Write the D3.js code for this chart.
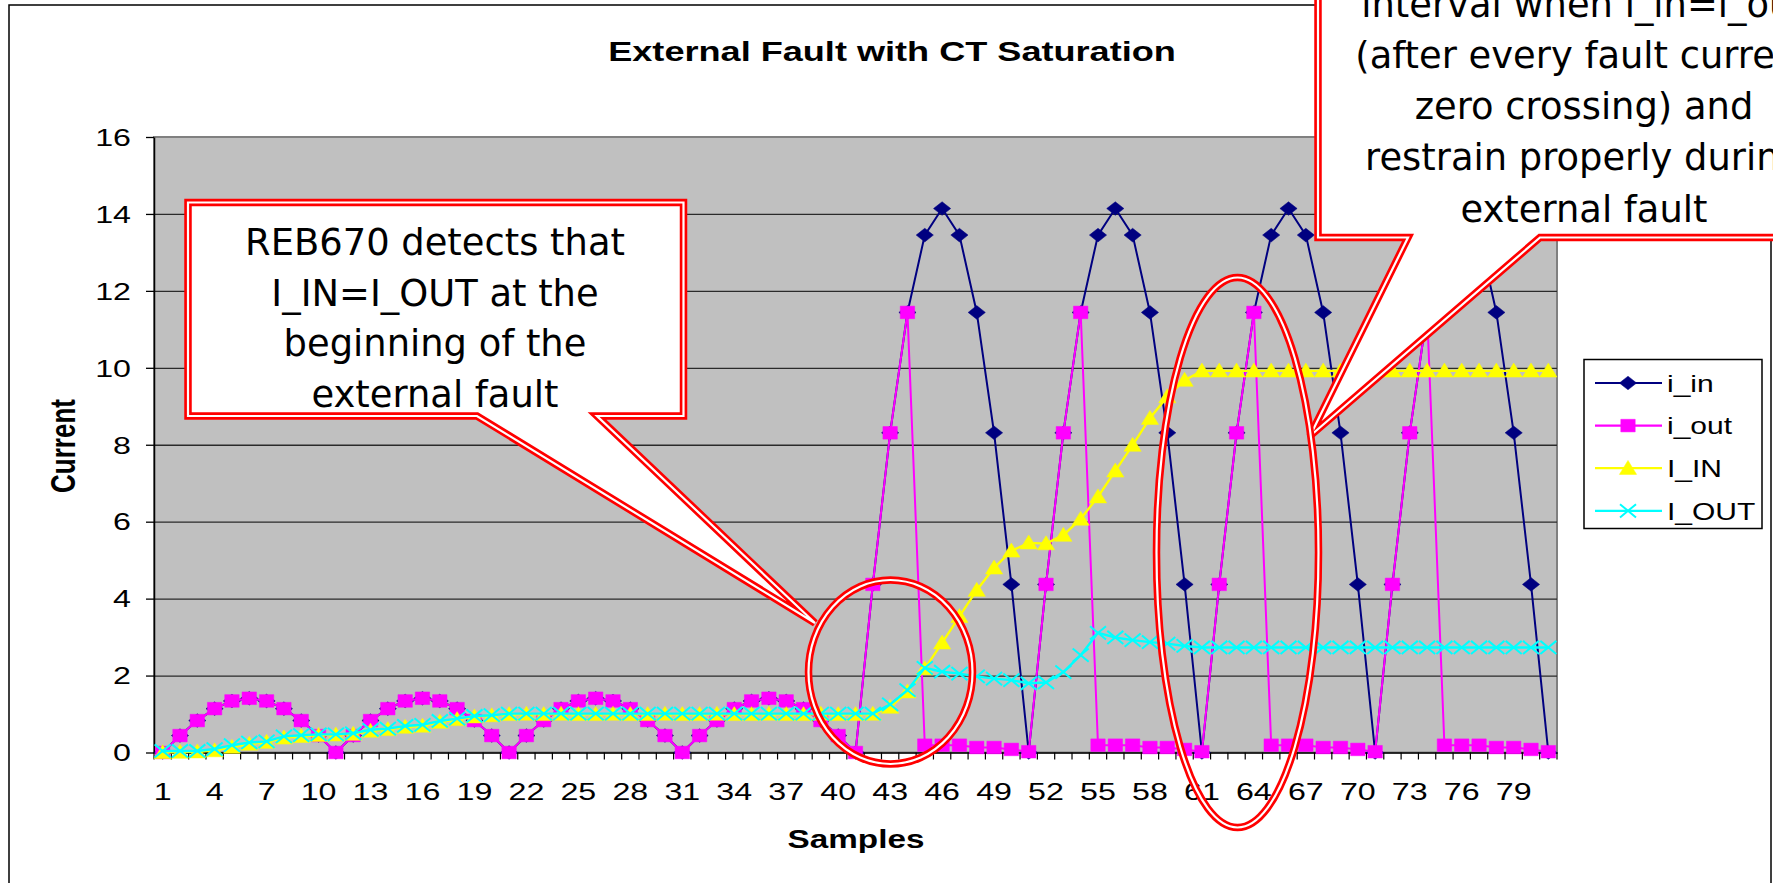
<!DOCTYPE html>
<html>
<head>
<meta charset="utf-8">
<script src="https://cdnjs.cloudflare.com/ajax/libs/d3/7.8.5/d3.min.js"></script>
<style>
body { margin: 0; background: #fff; }
text { font-family: "Liberation Sans", Arial, sans-serif; fill: #000; }
.note text { font-family: "DejaVu Sans", Tahoma, sans-serif; }
</style>
</head>
<body>
<div id="viz"></div>
<script>

// ****************** Data **************************************************
var samples = [1,2,3,4,5,6,7,8,9,10,11,12,13,14,15,16,17,18,19,20,
  21,22,23,24,25,26,27,28,29,30,31,32,33,34,35,36,37,38,39,40,
  41,42,43,44,45,46,47,48,49,50,51,52,53,54,55,56,57,58,59,60,
  61,62,63,64,65,66,67,68,69,70,71,72,73,74,75,76,77,78,79,80,81];

var xTickLabels = [1,4,7,10,13,16,19,22,25,28,31,34,37,40,43,46,49,52,55,58,61,64,67,70,73,76,79];
var yTicks = [0,2,4,6,8,10,12,14,16];

var i_in = [0,0.44,0.83,1.14,1.34,1.41,1.34,1.14,0.83,0.44,
  0,0.44,0.83,1.14,1.34,1.41,1.34,1.14,0.83,0.44,
  0,0.44,0.83,1.14,1.34,1.41,1.34,1.14,0.83,0.44,
  0,0.44,0.83,1.14,1.34,1.41,1.34,1.14,0.83,0.44,
  0,4.37,8.31,11.44,13.45,14.14,13.45,11.44,8.31,4.37,
  0,4.37,8.31,11.44,13.45,14.14,13.45,11.44,8.31,4.37,
  0,4.37,8.31,11.44,13.45,14.14,13.45,11.44,8.31,4.37,
  0,4.37,8.31,11.44,13.45,14.14,13.45,11.44,8.31,4.37,
  0];

var i_out = [0,0.44,0.83,1.14,1.34,1.41,1.34,1.14,0.83,0.44,
  0,0.44,0.83,1.14,1.34,1.41,1.34,1.14,0.83,0.44,
  0,0.44,0.83,1.14,1.34,1.41,1.34,1.14,0.83,0.44,
  0,0.44,0.83,1.14,1.34,1.41,1.34,1.14,0.83,0.44,
  0,4.37,8.31,11.44,0.19,0.19,0.19,0.13,0.13,0.08,
  0.02,4.37,8.31,11.44,0.19,0.19,0.19,0.13,0.13,0.08,
  0.02,4.37,8.31,11.44,0.19,0.19,0.19,0.13,0.13,0.08,
  0.02,4.37,8.31,11.44,0.19,0.19,0.19,0.13,0.13,0.08,
  0.02];

var I_IN = [0,0.01,0.02,0.05,0.14,0.22,0.27,0.38,0.42,0.45,
  0.46,0.48,0.56,0.6,0.66,0.69,0.79,0.86,0.93,0.96,
  0.99,1,0.99,1,0.99,0.99,1,0.99,0.99,1,
  0.99,0.99,1,0.99,0.99,1,0.99,0.99,1,0.99,
  0.99,1,1.18,1.58,2.18,2.85,3.54,4.22,4.8,5.24,
  5.45,5.43,5.65,6.07,6.65,7.32,7.99,8.69,9.25,9.68,
  9.92,9.92,9.92,9.92,9.92,9.92,9.92,9.92,9.92,9.92,
  9.92,9.92,9.92,9.92,9.92,9.92,9.92,9.92,9.92,9.92,
  9.92];

var I_OUT = [0.04,0.04,0.04,0.09,0.19,0.26,0.29,0.42,0.45,0.47,
  0.47,0.5,0.59,0.62,0.69,0.72,0.82,0.88,0.95,0.97,
  1.01,1.01,1.01,1.01,1.01,1.01,1.01,1.01,1.01,1.01,
  1.01,1.01,1.01,1.01,1.01,1.01,1.01,1.01,1.01,1.01,
  1.01,1.01,1.25,1.62,2.2,2.1,2.05,1.98,1.92,1.88,
  1.8,1.82,2.09,2.53,3.11,2.99,2.92,2.87,2.83,2.77,
  2.73,2.73,2.73,2.73,2.73,2.73,2.73,2.73,2.73,2.73,
  2.73,2.73,2.73,2.73,2.73,2.73,2.73,2.73,2.73,2.73,
  2.73];

var seriesNames = ["i_in", "i_out", "I_IN", "I_OUT"];
var seriesValues = [i_in, i_out, I_IN, I_OUT];

var note1 = ["REB670 detects that", "I_IN=I_OUT at the", "beginning of the", "external fault"];
var note2 = ["interval when i_in=i_out", "(after every fault current", "zero crossing) and",
             "restrain properly during", "external fault"];

// ****************** Setup ***************************
var width = 1773,
    height = 883;

var plotLeft = 154, plotRight = 1557, plotTop = 137, plotBottom = 752.5;

var svg = d3.select("#viz")
    .append("svg")
    .attr("width", width)
    .attr("height", height);

var color = d3.scaleOrdinal()                                   //series colours
    .domain(seriesNames)
    .range(["#000080", "#FF00FF", "#FFFF00", "#00FFFF"]);

var marker = d3.scaleOrdinal()                                  //marker outlines, w/h
    .domain(seriesNames)
    .range([
      "M0,-6.8L8.6,0L0,6.8L-8.6,0Z",
      "M-7.2,-6.3H7.2V6.3H-7.2Z",
      "M0,-7.8L8.6,6.2L-8.6,6.2Z",
      "M-8,-6.6L8,6.6M8,-6.6L-8,6.6"
    ]);

var x = d3.scaleBand()
    .domain(samples)
    .range([plotLeft, plotRight])
    .padding(0);

function cx(d) { return x(d) + x.bandwidth() / 2; }

var y = d3.scaleLinear()
    .domain([0, 16])
    .range([plotBottom, plotTop]);

var series = seriesNames.map(function(name, k) {
  return {
    name: name,
    values: samples.map(function(s, i) { return {s: s, v: seriesValues[k][i]}; })
  };
});

// ****************** Chart frame ***************************
svg.append("rect")
    .attr("width", width).attr("height", height)
    .attr("fill", "#fff");

svg.append("rect")                                              // outer chart border
    .attr("x", 9).attr("y", 5)
    .attr("width", 1762).attr("height", 920)
    .attr("fill", "none")
    .attr("stroke", "#000")
    .attr("stroke-width", 1.5);

svg.append("text")
    .attr("transform", "translate(892,60.5) scale(1.29,1)")
    .attr("text-anchor", "middle")
    .style("font-size", "28px")
    .style("font-weight", "bold")
    .text("External Fault with CT Saturation");

svg.append("rect")                                              // plot area
    .attr("x", plotLeft).attr("y", plotTop)
    .attr("width", plotRight - plotLeft).attr("height", plotBottom - plotTop)
    .attr("fill", "#C0C0C0")
    .attr("stroke", "#808080")
    .attr("stroke-width", 2);

// gridlines
svg.append("g")
    .attr("transform", "translate(" + plotLeft + ",0)")
    .call(d3.axisLeft(y)
      .tickValues(yTicks.filter(function(d) { return d > 0 && d < 16; }))
      .tickSize(-(plotRight - plotLeft))
      .tickFormat(""))
    .call(function(g) { g.select(".domain").remove(); })
    .selectAll("line")
      .attr("stroke", "#2a2a2a")
      .attr("stroke-width", 1.3);

// y axis
var yAxis = svg.append("g")
    .attr("transform", "translate(" + plotLeft + ",0)")
    .call(d3.axisLeft(y).tickValues(yTicks).tickSize(8).tickSizeOuter(0));

yAxis.select(".domain").attr("stroke", "#000").attr("stroke-width", 1.5);
yAxis.selectAll("line").attr("stroke", "#000").attr("stroke-width", 1.3);
yAxis.selectAll("text")
    .attr("x", null)
    .attr("dy", "0.36em")
    .attr("transform", "translate(-23,0) scale(1.4,1)")
    .style("font-size", "23px")
    .style("font-family", "'Liberation Sans', Arial, sans-serif");

// x axis: labels every 3rd sample, ticks between every category
var xAxis = svg.append("g")
    .attr("transform", "translate(0," + plotBottom + ")")
    .call(d3.axisBottom(x).tickValues(xTickLabels).tickSize(0).tickSizeOuter(0));

xAxis.select(".domain").attr("stroke", "#000").attr("stroke-width", 1.5);
xAxis.selectAll("text")
    .attr("y", null)
    .attr("dy", null)
    .attr("transform", "translate(0,47.5) scale(1.4,1)")
    .style("font-size", "23px")
    .style("font-family", "'Liberation Sans', Arial, sans-serif");

svg.append("g")
    .selectAll("line")
    .data(samples)
    .enter().append("line")
      .attr("x1", function(d) { return x(d); })
      .attr("x2", function(d) { return x(d); })
      .attr("y1", plotBottom)
      .attr("y2", plotBottom + 7)
      .attr("stroke", "#000")
      .attr("stroke-width", 1.2);

svg.append("line")
    .attr("x1", plotRight).attr("x2", plotRight)
    .attr("y1", plotBottom).attr("y2", plotBottom + 7)
    .attr("stroke", "#000").attr("stroke-width", 1.2);

svg.append("text")
    .attr("transform", "translate(856,848) scale(1.28,1)")
    .attr("text-anchor", "middle")
    .style("font-size", "26px")
    .style("font-weight", "bold")
    .text("Samples");

svg.append("text")
    .attr("transform", "translate(74.5,446) scale(1.35,1) rotate(-90)")
    .attr("text-anchor", "middle")
    .style("font-size", "26px")
    .style("font-weight", "bold")
    .text("Current");

// ****************** Series ***************************
var line = d3.line()
    .x(function(d) { return cx(d.s); })
    .y(function(d) { return y(d.v); });

var sg = svg.append("g")
    .selectAll("g")
    .data(series)
    .enter().append("g");

sg.append("path")
    .attr("d", function(d) { return line(d.values); })
    .attr("fill", "none")
    .attr("stroke", function(d) { return color(d.name); })
    .attr("stroke-width", function(d) { return d.name == "I_IN" || d.name == "I_OUT" ? 2.4 : 2; });

sg.each(function(ser) {
  d3.select(this).selectAll(".pt")
    .data(ser.values)
    .enter().append("path")
      .attr("class", "pt")
      .attr("transform", function(d) { return "translate(" + cx(d.s) + "," + y(d.v) + ")"; })
      .attr("d", marker(ser.name))
      .attr("fill", ser.name == "I_OUT" ? "none" : color(ser.name))
      .attr("stroke", color(ser.name))
      .attr("stroke-width", ser.name == "I_OUT" ? 2 : 0.5);
});

// ****************** Legend ***************************
var legend = svg.append("g");

legend.append("rect")
    .attr("x", 1584).attr("y", 359.5)
    .attr("width", 178).attr("height", 169)
    .attr("fill", "#fff")
    .attr("stroke", "#000")
    .attr("stroke-width", 1.5);

var li = legend.selectAll(".li")
    .data(seriesNames)
    .enter().append("g")
      .attr("class", "li")
      .attr("transform", function(d, i) { return "translate(0," + (383 + i * 42.6) + ")"; });

li.append("line")
    .attr("x1", 1595).attr("x2", 1662)
    .attr("stroke", function(d) { return color(d); })
    .attr("stroke-width", 2.2);

li.append("path")
    .attr("transform", "translate(1628,0)")
    .attr("d", function(d) { return marker(d); })
    .attr("fill", function(d) { return d == "I_OUT" ? "none" : color(d); })
    .attr("stroke", function(d) { return color(d); })
    .attr("stroke-width", function(d) { return d == "I_OUT" ? 2 : 0.5; });

li.append("text")
    .attr("transform", "translate(1667,8.7) scale(1.25,1)")
    .style("font-size", "24px")
    .text(function(d) { return d; });

// ****************** Callouts ***************************
var note = svg.append("g").attr("class", "note");

var shape1 = "M188,202.5H683.5V416H597L815,623L477,416H188Z";
var shape2 = "M1318,-30V237.5H1408L1310,436L1540,237.5H1810V-30Z";

function doubleLine(sel) {                                      // red double border
  sel.clone().attr("stroke", "#FF0000").attr("stroke-width", 7.5).lower();
  sel.attr("stroke", "#fff").attr("stroke-width", 2.2);
}

[shape1, shape2].forEach(function(p) {
  note.append("path").attr("d", p).attr("fill", "#fff").attr("stroke", "#FF0000").attr("stroke-width", 7.5);
  note.append("path").attr("d", p).attr("fill", "none").attr("stroke", "#fff").attr("stroke-width", 2.2);
});

note.selectAll(".n1")
    .data(note1)
    .enter().append("text")
      .attr("class", "n1")
      .attr("transform", function(d, i) { return "translate(435," + (255 + i * 50.6) + ") scale(0.97,1)"; })
      .attr("text-anchor", "middle")
      .style("font-size", "38px")
      .text(function(d) { return d; });

note.selectAll(".n2")
    .data(note2)
    .enter().append("text")
      .attr("class", "n2")
      .attr("transform", function(d, i) { return "translate(1584," + (16.5 + i * 51.3) + ") scale(0.97,1)"; })
      .attr("text-anchor", "middle")
      .style("font-size", "38px")
      .text(function(d) { return d; });

var rings = [[890.5, 672, 82, 92], [1237.5, 552.5, 81, 275]];   // cx, cy, rx, ry

rings.forEach(function(r) {
  note.append("ellipse")
      .attr("cx", r[0]).attr("cy", r[1]).attr("rx", r[2]).attr("ry", r[3])
      .attr("fill", "none").attr("stroke", "#FF0000").attr("stroke-width", 7.5);
  note.append("ellipse")
      .attr("cx", r[0]).attr("cy", r[1]).attr("rx", r[2]).attr("ry", r[3])
      .attr("fill", "none").attr("stroke", "#fff").attr("stroke-width", 2.2);
});

</script>
</body>
</html>
